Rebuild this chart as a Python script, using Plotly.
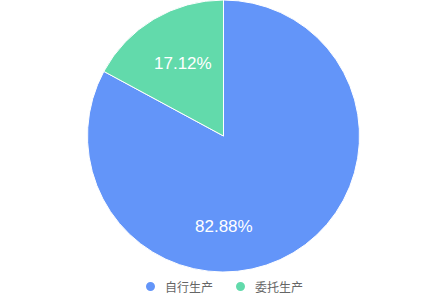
import plotly.graph_objects as go

categories = ["自行生产", "委托生产"]
values = [82.88, 17.12]
colors = ["#6395F9", "#62DAAB"]

W, H = 447, 300
fig = go.Figure()
fig.add_trace(go.Pie(
    labels=categories, values=values,
    marker=dict(colors=colors, line=dict(color="white", width=1)),
    sort=False, direction="clockwise", rotation=0,
    textinfo="none",
    hoverinfo="label+percent", showlegend=False,
    domain=dict(x=[0, 1], y=[28/H, 1]),
))

# slice labels (pixel positions of label centres)
label_pos = [(224, 226.5), (183, 63.5)]
annotations = []
for v, (px, py) in zip(values, label_pos):
    annotations.append(dict(x=px / W, y=1 - py / H, xref="paper", yref="paper",
                            xanchor="center", yanchor="middle",
                            text=f"{v:.2f}%", showarrow=False,
                            font=dict(color="white", size=17, family="Liberation Sans")))

# manual legend with circle markers
legend_x = [150.5, 240.5]
legend_y = 286.5
shapes = []
for c, col, lx in zip(categories, colors, legend_x):
    r = 4.5
    shapes.append(dict(type="circle", xref="paper", yref="paper",
                       x0=(lx - r) / W, x1=(lx + r) / W,
                       y0=1 - (legend_y + r) / H, y1=1 - (legend_y - r) / H,
                       fillcolor=col, line=dict(width=0)))
    annotations.append(dict(x=(lx + 12) / W, y=1 - legend_y / H, xref="paper", yref="paper",
                            xanchor="left", yanchor="middle", text=c, showarrow=False,
                            font=dict(size=12, color="#666666", family="Noto Sans CJK SC")))

fig.update_layout(
    width=W, height=H, margin=dict(l=0, r=0, t=0, b=0),
    paper_bgcolor="white", plot_bgcolor="white",
    annotations=annotations, shapes=shapes,
)
fig.write_html("out.html")
